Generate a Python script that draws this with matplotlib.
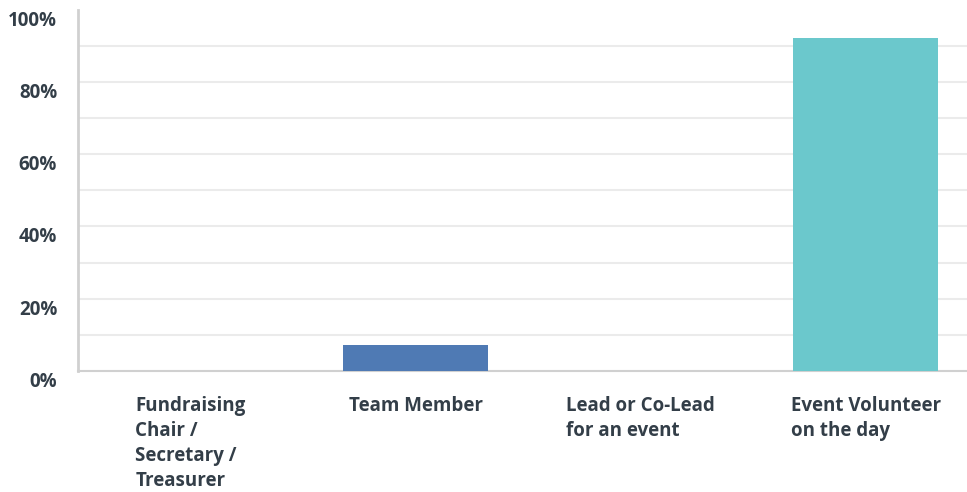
import matplotlib.pyplot as plt
import matplotlib.transforms as mtransforms

categories = ['Fundraising\nChair /\nSecretary /\nTreasurer', 'Team Member',
              'Lead or Co-Lead\nfor an event', 'Event Volunteer\non the day']
values = [0.0, 7.2, 0.0, 92.2]
bar_colors = ['#4f7ab4', '#4f7ab4', '#4f7ab4', '#6bc8cc']
yticks = [0, 20, 40, 60, 80, 100]

text_color = '#333e48'
plt.rcParams['font.family'] = ['Open Sans', 'DejaVu Sans']

W, H = 967, 492
fig = plt.figure(figsize=(W / 100, H / 100), dpi=100)
ax = fig.add_axes([78 / W, (H - 371) / H, (967 - 78) / W, (371 - 9.5) / H])

x = list(range(len(categories)))
bw = 0.644
ax.bar(x, values, width=bw, color=bar_colors, zorder=3)

ax.set_xlim(-0.5, 3.45)
ax.set_ylim(0, 100)

# grid every 10%
for g in range(10, 100, 10):
    ax.axhline(g, color='#ebebeb', lw=1.5, zorder=1)

for s in ['top', 'right']:
    ax.spines[s].set_visible(False)
ax.spines['left'].set_color('#d0d0d0')
ax.spines['left'].set_linewidth(2)
ax.spines['bottom'].set_color('#d0d0d0')
ax.spines['bottom'].set_linewidth(1.5)

ax.set_xticks([])
ax.set_yticks(yticks)
ax.set_yticklabels([f'{t}%' for t in yticks], fontsize=13.5, fontweight='bold', color=text_color)
ax.tick_params(axis='y', length=0, pad=15)
off = mtransforms.ScaledTranslation(0, -8.5 / 100, fig.dpi_scale_trans)
for lbl in ax.get_yticklabels():
    lbl.set_transform(lbl.get_transform() + off)

# category labels: block centred under the bar, lines left aligned
for xi, cat in zip(x, categories):
    ax.text(xi, -0.068, cat, transform=ax.get_xaxis_transform(),
            ha='center', va='top', multialignment='left', fontsize=13.5,
            fontweight='bold', color=text_color, linespacing=1.34)

fig.savefig('out.png', dpi=100)
